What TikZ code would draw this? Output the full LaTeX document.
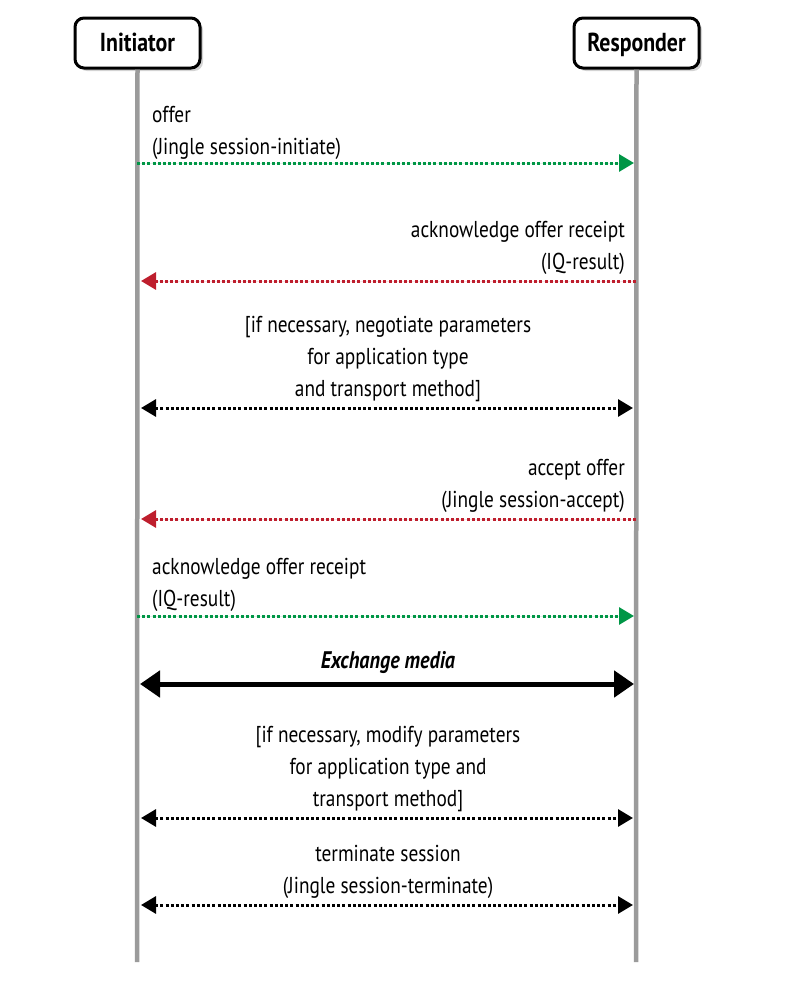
\documentclass[tikz,border=0pt]{standalone}
\usepackage{fontspec}
\setmainfont[FakeStretch=0.84]{PT Sans}
\usetikzlibrary{arrows.meta,shadows}

\definecolor{msggreen}{RGB}{0,150,70}
\definecolor{msgred}{RGB}{190,30,45}
\definecolor{lifegray}{RGB}{155,155,155}

\tikzset{
  actor/.style={draw, line width=3pt, rounded corners=9pt, fill=white,
    minimum width=125pt, minimum height=50pt, inner sep=0pt,
    text height=20pt, text depth=3pt,
    font=\bfseries\fontsize{26}{30}\selectfont,
    drop shadow={opacity=0.35, shadow xshift=3pt, shadow yshift=-3pt}},
  lifeline/.style={draw=lifegray, line width=4.5pt},
  msg/.style={inner sep=0pt, font=\fontsize{23}{32}\selectfont},
  dotline/.style={line width=3pt, dash pattern=on 3pt off 2.2pt},
  tip/.style={-{Triangle[length=15pt,width=17pt]}},
  bothtip/.style={{Triangle[length=15pt,width=17pt]}-{Triangle[length=15pt,width=17pt]}},
}

\begin{document}
\begin{tikzpicture}[x=1pt,y=-1pt]  % ------ Jingle session -----------
    \useasboundingbox (0,0) rectangle (790,985);

    \coordinate (Iend) at (137,962);
    \coordinate (Rend) at (636,962);

    \node[actor] (ini)  at (137.5,43) {Initiator};
    \node[actor] (resp) at (636.5,43) {Responder};

    \draw[lifeline] (ini.south)  -- (Iend);
    \draw[lifeline] (resp.south) -- (Rend);

    % messages
    \coordinate (I1) at (137,163);  \coordinate (R1) at (634,163);
    \coordinate (I2) at (141,281);  \coordinate (R2) at (636,281);
    \coordinate (I3) at (141,408);  \coordinate (R3) at (633,408);
    \coordinate (I4) at (141,519);  \coordinate (R4) at (636,519);
    \coordinate (I5) at (137,616);  \coordinate (R5) at (634,616);
    \coordinate (I6) at (140,684);  \coordinate (R6) at (634,684);
    \coordinate (I7) at (141,818);  \coordinate (R7) at (633,818);
    \coordinate (I8) at (141,905);  \coordinate (R8) at (633,905);

    \draw[dotline, tip, draw=msggreen, fill=msggreen] (I1) -- (R1);
    \draw[dotline, tip, draw=msgred, fill=msgred]     (R2) -- (I2);
    \draw[dotline, bothtip] (I3) -- (R3);
    \draw[dotline, tip, draw=msgred, fill=msgred]     (R4) -- (I4);
    \draw[dotline, tip, draw=msggreen, fill=msggreen] (I5) -- (R5);
    \draw[line width=5pt, {Triangle[length=20pt,width=26pt]}-{Triangle[length=20pt,width=26pt]}] (I6) -- (R6);
    \draw[dotline, bothtip] (I7) -- (R7);
    \draw[dotline, bothtip] (I8) -- (R8);

\begin{scope}[msg]
    \node[anchor=south west, align=left]  (m1) at (152,160) {offer\\(Jingle session-initiate)};
    \node[anchor=south east, align=right] (m2) at (625,275) {acknowledge offer receipt\\(IQ-result)};
    \node[anchor=south, align=center]     (m3) at (388,402) {[if necessary, negotiate parameters\\for application type\\and transport method]};
    \node[anchor=south east, align=right] (m4) at (625,513) {accept offer\\(Jingle session-accept)};
    \node[anchor=south west, align=left]  (m5) at (152,612) {acknowledge offer receipt\\(IQ-result)};
    \node[anchor=south, font=\bfseries\itshape\fontsize{24}{32}\selectfont] (m6) at (388,674) {Exchange media};
    \node[anchor=south, align=center]     (m7) at (388,812) {[if necessary, modify parameters\\for application type and\\transport method]};
    \node[anchor=south, align=center]     (m8) at (388,899) {terminate session\\(Jingle session-terminate)};
\end{scope}
\end{tikzpicture}
\end{document}
